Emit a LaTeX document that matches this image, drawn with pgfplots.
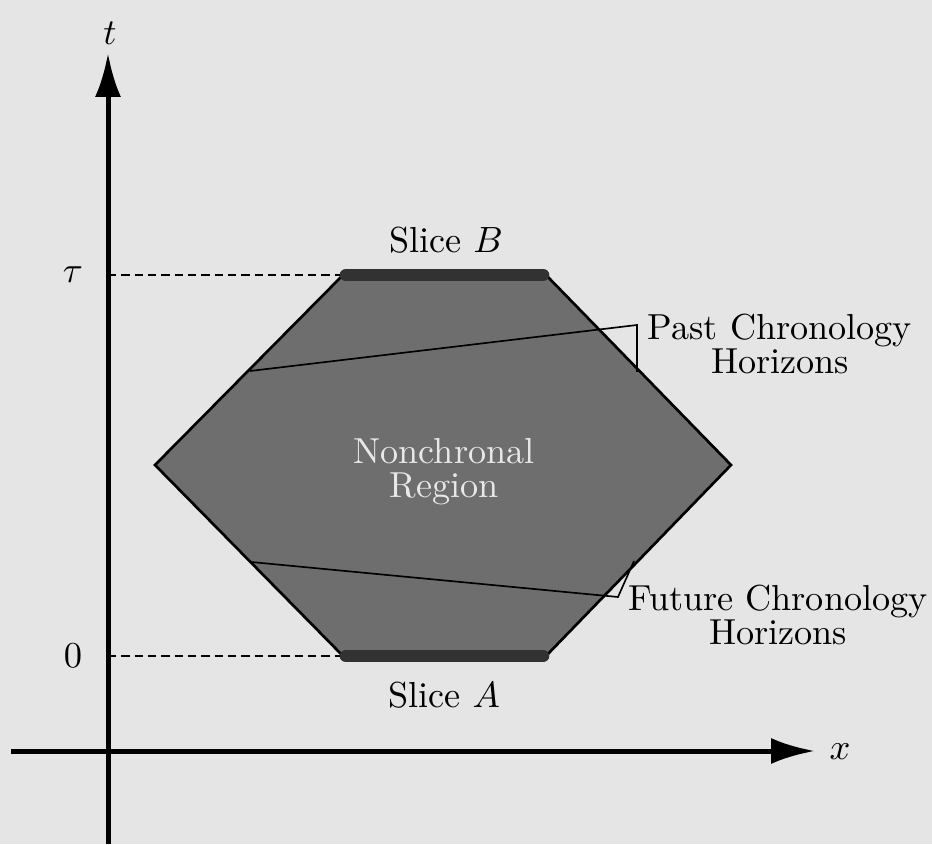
\documentclass[border=0pt]{standalone}
\usepackage{pgfplots}
\pgfplotsset{compat=1.18}
\usetikzlibrary{arrows.meta}
\definecolor{paper}{RGB}{229,229,229}
\definecolor{hexfill}{RGB}{110,110,110}
\definecolor{slicecol}{RGB}{50,50,50}
\definecolor{lighttext}{RGB}{232,232,232}
\begin{document}
\begin{tikzpicture}
\begin{axis}[
  width=279.6pt, height=253.2pt, scale only axis,
  xmin=0, xmax=932, ymin=0, ymax=844,
  hide axis, clip=false,
]
% page background
\fill[paper] (axis cs:0,0) rectangle (axis cs:932,844);
% hexagon (nonchronal region)
\addplot[fill=hexfill, draw=black, line width=0.8pt, line join=miter] coordinates {
  (343,569) (546,569) (731,379) (546,188) (343,188) (155,379) (343,569)
};
% slices
\addplot[slicecol, line width=3.8pt, line cap=round] coordinates {(346,569) (543,569)};
\addplot[slicecol, line width=3.8pt, line cap=round] coordinates {(346,188) (543,188)};
% dashed guide lines
\addplot[black, line width=0.85pt, dash pattern=on 2.5pt off 1.5pt] coordinates {(108,569) (340,569)};
\addplot[black, line width=0.85pt, dash pattern=on 2.5pt off 1.5pt] coordinates {(108,188) (340,188)};
% past chronology horizons leader
\addplot[black, line width=0.5pt] coordinates {(250,473) (637,519) (637,472)};
% future chronology horizons leader
\addplot[black, line width=0.5pt] coordinates {(251,282) (618,247) (634,283)};
% axes
\addplot[black, line width=1.5pt, -{Latex[length=13.2pt,width=7.8pt]}] coordinates {(108,0) (108,791)};
\addplot[black, line width=1.5pt, -{Latex[length=13.2pt,width=7.8pt]}] coordinates {(11,93) (815,93)};
% labels
\node[font=\fontsize{10.85}{10.2}\selectfont] at (axis cs:110,811) {$t$};
\node[font=\fontsize{10.85}{10.2}\selectfont] at (axis cs:840,92) {$x$};
\node[font=\fontsize{10.85}{10.2}\selectfont] at (axis cs:73,569) {$\tau$};
\node[font=\fontsize{10.85}{10.2}\selectfont] at (axis cs:73,188) {$0$};
\node[font=\fontsize{10.85}{10.2}\selectfont] at (axis cs:446,604) {Slice $B$};
\node[font=\fontsize{10.85}{10.2}\selectfont] at (axis cs:444,149) {Slice $A$};
\node[font=\fontsize{10.85}{10.2}\selectfont, text=lighttext, align=center] at (axis cs:444,372) {Nonchronal\\Region};
\node[font=\fontsize{10.85}{10.2}\selectfont, align=center] at (axis cs:780,500) {Past Chronology\\Horizons};
\node[font=\fontsize{10.85}{10.2}\selectfont, align=center] at (axis cs:778,229) {Future Chronology\\Horizons};
\end{axis}
\pgfresetboundingbox
\path (current axis.south west) rectangle (current axis.north east);
\end{tikzpicture}
\end{document}
